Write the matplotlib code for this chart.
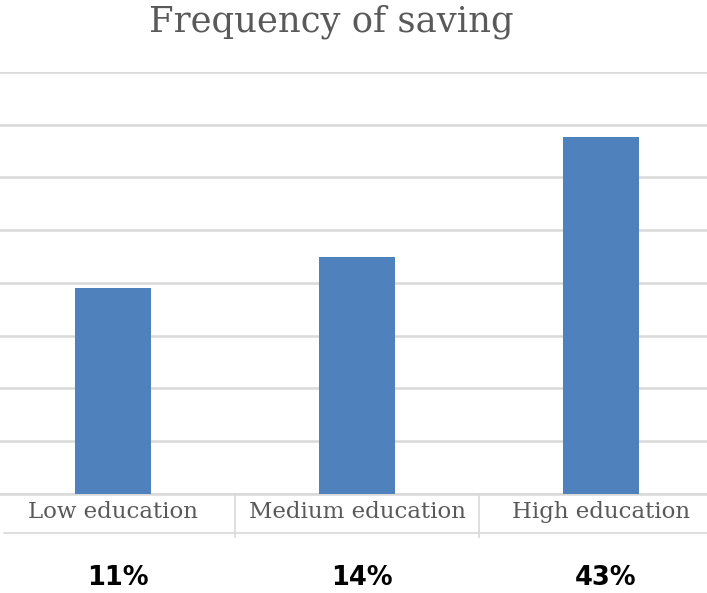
import matplotlib.pyplot as plt
import numpy as np
from matplotlib.transforms import blended_transform_factory

# Bar heights (gridline units) and the share row shown under the axis
categories = ['Low education', 'Medium education', 'High education']
bar_values = [3.9, 4.5, 6.77]
shares = ['11%', '14%', '43%']

plt.rcParams['figure.dpi'] = 100
fig = plt.figure(figsize=(7.07, 5.93))
ax = fig.add_axes([0.0, 0.167, 1.0, 0.7116])

x = np.arange(len(categories))
ax.bar(x, bar_values, width=0.31, color='#4f81bd', zorder=3)

ax.set_xlim(-0.463, 2.434)
ax.set_ylim(0, 8)
ax.set_yticks(np.arange(0, 9))
ax.yaxis.grid(True, color='#d9d9d9', linewidth=1.8, zorder=0)
ax.tick_params(axis='y', left=False, labelleft=False)
for side in ['left', 'right', 'top']:
    ax.spines[side].set_visible(False)
ax.spines['bottom'].set_color('#d9d9d9')
ax.spines['bottom'].set_linewidth(1.8)

ax.set_xticks(x)
ax.set_xticklabels(categories, family='DejaVu Serif', fontsize=16.5,
                   color='#595959')
ax.tick_params(axis='x', length=0, pad=5)

# table-like frame around the category labels
tr = blended_transform_factory(ax.transData, ax.transAxes)
for xd in [0.5, 1.5]:
    ax.plot([xd, xd], [0, -0.103], transform=tr, color='#d9d9d9',
            linewidth=1.2, clip_on=False)
ax.plot([0.006, 1], [-0.092, -0.092], transform=ax.transAxes,
        color='#d9d9d9', linewidth=1.2, clip_on=False)

for xi, s in zip(x, shares):
    ax.text(xi + 0.02, -0.199, s, transform=tr, ha='center', va='center',
            fontsize=18.5, fontweight='bold', color='black')

fig.text(0.468, 0.964, 'Frequency of saving', ha='center', va='center',
         family='DejaVu Serif', fontsize=25.5, color='#595959')

fig.savefig('out.png')
